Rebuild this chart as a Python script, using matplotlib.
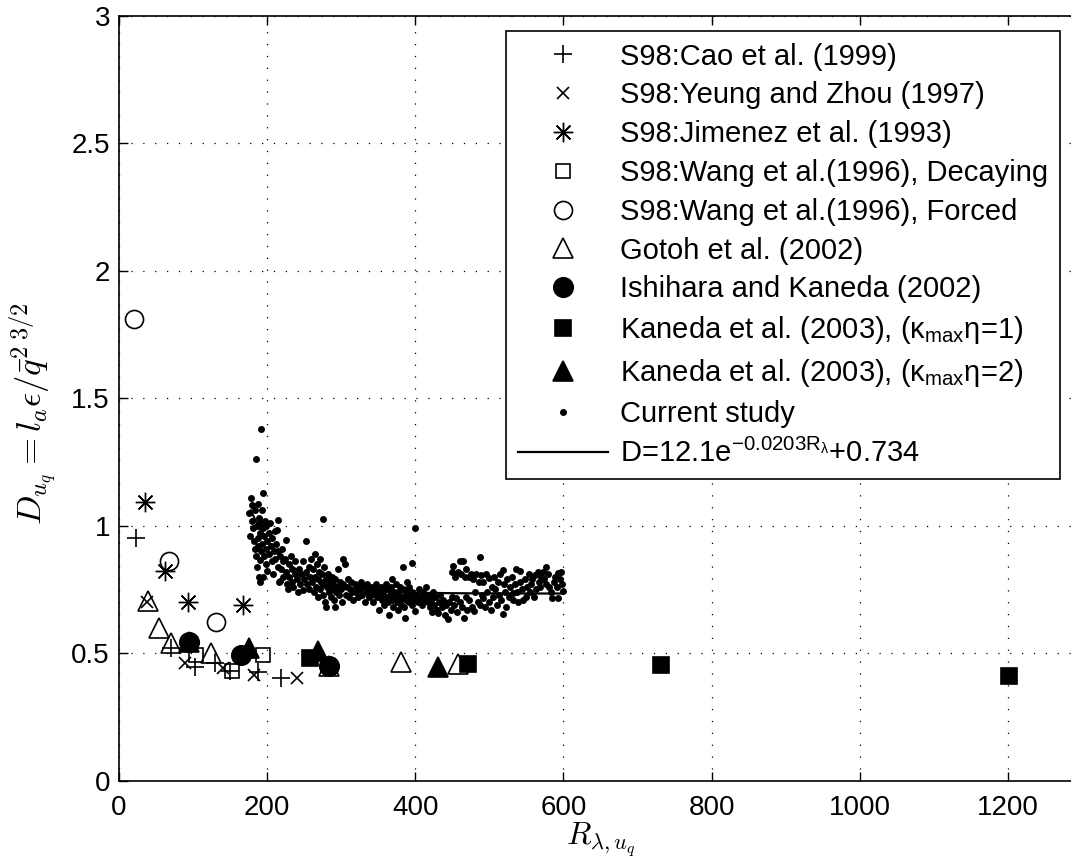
import math
import matplotlib
matplotlib.use("Agg")
import matplotlib.pyplot as plt

plt.rcParams['font.family'] = ['Liberation Sans', 'DejaVu Sans']
plt.rcParams['mathtext.fontset'] = 'custom'
plt.rcParams['mathtext.rm'] = 'Liberation Sans'
plt.rcParams['mathtext.it'] = 'Liberation Sans:italic'
plt.rcParams['mathtext.bf'] = 'Liberation Sans:bold'

# ---------------- data ----------------
cao_r = [23, 70, 102, 130, 150, 188, 219]
cao_d = [0.951, 0.519, 0.447, 0.463, 0.430, 0.427, 0.401]

yeung_r = [38, 89.5, 141, 182, 240]
yeung_d = [0.70, 0.463, 0.441, 0.415, 0.401]

jimenez_r = [34.6, 61.6, 93, 167]
jimenez_d = [1.092, 0.824, 0.702, 0.689]

wang_dec_r = [104, 152, 195]
wang_dec_d = [0.493, 0.431, 0.493]

wang_for_r = [19.8, 68, 131]
wang_for_d = [1.81, 0.863, 0.624]

gotoh_r = [38.7, 53.5, 70, 124.6, 284, 381, 458]
gotoh_d = [0.705, 0.598, 0.539, 0.500, 0.450, 0.467, 0.456]

ishihara_r = [94, 165, 284]
ishihara_d = [0.545, 0.493, 0.451]

kaneda1_r = [258, 471, 732, 1202]
kaneda1_d = [0.480, 0.456, 0.452, 0.410]

kaneda2_r = [94, 175, 268, 430]
kaneda2_d = [0.545, 0.520, 0.510, 0.447]

current_r = [
    176, 177, 178, 179, 180, 181, 182, 183, 184, 185, 185, 186, 186, 187, 188, 188, 189, 189,
    190, 190, 191, 191, 192, 192, 193, 193, 194, 194, 195, 196, 196, 197, 198, 198, 199, 200, 200,
    202, 203, 204, 205, 206, 207, 208, 209, 210, 211, 212, 213, 214, 215, 215, 216, 217, 218, 219,
    220, 221, 222, 224, 225, 226, 227, 228, 229, 230, 232, 233, 234, 235, 237, 238, 240, 241, 243,
    244, 246, 248, 249, 250, 252, 253, 254, 256, 257, 258, 259,
    261, 262, 263, 264, 265, 266, 267, 268, 269, 270, 271, 272, 273, 274, 275, 275, 276, 277, 278,
    279, 280, 281, 282, 283, 284, 286, 287, 288, 289, 290, 291, 292, 293, 295, 296, 297, 298, 300,
    301, 302, 303, 305, 306, 308, 309, 310, 312, 313, 315, 316, 318, 320, 322, 323, 325, 327, 328,
    330, 332, 333, 335, 337, 338, 340, 342, 343, 345, 347, 348, 350,
    351, 352, 354, 355, 357, 358, 360, 361, 362, 363, 365, 366, 367, 368, 369, 370, 371, 372, 374,
    375, 376, 377, 378, 379, 380, 381, 383, 383, 384, 385, 386, 387, 388, 389, 390, 391, 392, 393,
    395, 395, 396, 398, 400, 400, 401, 403, 405, 407, 409, 410, 412, 414, 415, 417, 418, 420,
    421, 423, 424, 425, 427, 429, 431, 432, 434, 436, 438, 440, 442, 444, 446, 448, 449, 450, 451,
    452, 454, 455, 456, 458, 460, 461, 462, 463, 465, 466, 467, 468, 469, 470, 472, 473, 475, 476,
    478, 479, 480, 482, 484, 486, 487, 488, 489, 490,
    491, 492, 494, 496, 497, 499, 500, 502, 503, 505, 506, 508, 510, 511, 513, 515, 516, 518, 518,
    520, 521, 523, 524, 526, 528, 530, 532, 532, 534, 536, 537, 539, 541, 542, 544, 546, 548, 550,
    551, 553, 555, 556, 558, 560, 562, 563, 565, 567, 569, 570, 572, 574, 576, 577, 579, 581, 583,
    585, 587, 589, 591, 592, 593, 595, 597, 598, 600,
]
current_d = [
    1.05, 0.96, 1.11, 1.08, 1.02, 0.99, 0.94, 1.06, 0.91, 1.26, 0.88, 1.00, 0.84, 0.95, 1.085, 0.92, 0.80, 1.03,
    0.865, 0.78, 0.97, 1.01, 1.378, 0.90, 1.06, 0.93, 1.127, 0.80, 0.99, 0.88, 0.96, 1.02, 0.91, 0.85, 1.00, 0.824, 0.94,
    0.97, 0.89, 1.01, 0.92, 0.86, 0.95, 0.81, 0.90, 0.98, 0.87, 0.93, 0.985, 0.84, 1.022, 0.90, 0.78, 0.784, 0.88, 0.83,
    0.91, 0.86, 0.80, 0.87, 0.943, 0.82, 0.77, 0.75, 0.85, 0.80, 0.88, 0.78, 0.83, 0.76, 0.81, 0.86, 0.79, 0.74, 0.83,
    0.77, 0.81, 0.748, 0.86, 0.79, 0.82, 0.939, 0.77, 0.84, 0.75, 0.80, 0.87,
    0.78, 0.83, 0.74, 0.89, 0.80, 0.76, 0.85, 0.72, 0.79, 0.82, 0.75, 0.87, 0.78, 0.81, 1.027, 0.73, 0.77, 0.84, 0.70,
    0.79, 0.683, 0.76, 0.81, 0.74, 0.78, 0.72, 0.80, 0.75, 0.77, 0.71, 0.68, 0.79, 0.74, 0.76, 0.83, 0.73, 0.78, 0.75,
    0.70, 0.868, 0.77, 0.85, 0.73, 0.76, 0.79, 0.72, 0.75, 0.78, 0.74, 0.71, 0.77, 0.74, 0.76, 0.72, 0.75, 0.78, 0.73,
    0.76, 0.70, 0.74, 0.77, 0.72, 0.75, 0.73, 0.76, 0.70, 0.74, 0.77, 0.72, 0.75,
    0.669, 0.73, 0.76, 0.71, 0.74, 0.69, 0.77, 0.72, 0.75, 0.70, 0.65, 0.73, 0.76, 0.71, 0.79, 0.68, 0.74, 0.72, 0.77,
    0.70, 0.74, 0.67, 0.73, 0.76, 0.71, 0.69, 0.84, 0.75, 0.72, 0.68, 0.637, 0.74, 0.71, 0.78, 0.73, 0.70, 0.76, 0.72,
    0.855, 0.69, 0.74, 0.71, 0.99, 0.665, 0.73, 0.70, 0.75, 0.72, 0.69, 0.74, 0.71, 0.76, 0.722, 0.70, 0.73, 0.68,
    0.71, 0.66, 0.741, 0.69, 0.72, 0.67, 0.659, 0.70, 0.73, 0.68, 0.71, 0.65, 0.69, 0.633, 0.70, 0.67, 0.82, 0.72, 0.842,
    0.69, 0.80, 0.715, 0.66, 0.82, 0.86, 0.70, 0.81, 0.68, 0.86, 0.639, 0.80, 0.72, 0.83, 0.67, 0.80, 0.71, 0.81, 0.68,
    0.79, 0.667, 0.74, 0.81, 0.70, 0.78, 0.876, 0.69, 0.806, 0.73,
    0.715, 0.78, 0.68, 0.81, 0.74, 0.70, 0.794, 0.67, 0.76, 0.72, 0.80, 0.75, 0.69, 0.78, 0.73, 0.81, 0.71, 0.826, 0.654,
    0.77, 0.74, 0.68, 0.79, 0.72, 0.76, 0.80, 0.708, 0.735, 0.77, 0.83, 0.74, 0.70, 0.78, 0.823, 0.75, 0.71, 0.79, 0.722,
    0.76, 0.81, 0.74, 0.77, 0.79, 0.72, 0.806, 0.75, 0.82, 0.78, 0.76, 0.80, 0.82, 0.79, 0.77, 0.839, 0.81, 0.76, 0.74,
    0.715, 0.78, 0.80, 0.76, 0.815, 0.715, 0.79, 0.82, 0.77, 0.745,
]

# exponential fit D = a*exp(-b*R) + c over the current-study range
fit_a, fit_b, fit_c = 12.1, 0.0203, 0.734
fit_r_start, fit_r_end = 178, 600

x_ticks = [0, 200, 400, 600, 800, 1000, 1200]
x_tick_labels = ['0', '200', '400', '600', '800', '1000', '1200']
y_ticks = [0, 0.5, 1, 1.5, 2, 2.5, 3]
y_tick_labels = ['0', '0.5', '1', '1.5', '2', '2.5', '3']

# ---------------- figure ----------------
W, H = 1071, 863
fig = plt.figure(figsize=(W / 100, H / 100), dpi=100)
ax = fig.add_axes([119 / W, (H - 780.7) / H, (1082 - 119) / W, 765 / H])

k = 'k'
mew = 1.2
ax.plot(cao_r, cao_d, ls='none', marker='+', ms=13, mew=mew, color=k,
        label='S98:Cao et al. (1999)')
ax.plot(yeung_r, yeung_d, ls='none', marker='x', ms=9, mew=mew, color=k,
        label='S98:Yeung and Zhou (1997)')
ax.plot(jimenez_r, jimenez_d, ls='none', marker=(8, 2, 0), ms=14, mew=1.0, color=k,
        label='S98:Jimenez et al. (1993)')
ax.plot(wang_dec_r, wang_dec_d, ls='none', marker='s', ms=10, mew=mew, color=k,
        mfc='none', label='S98:Wang et al.(1996), Decaying')
ax.plot(wang_for_r, wang_for_d, ls='none', marker='o', ms=13, mew=mew, color=k,
        mfc='none', label='S98:Wang et al.(1996), Forced')
ax.plot(gotoh_r, gotoh_d, ls='none', marker='^', ms=14, mew=mew, color=k,
        mfc='none', label='Gotoh et al. (2002)')
ax.plot(ishihara_r, ishihara_d, ls='none', marker='o', ms=14, mew=mew, color=k,
        label='Ishihara and Kaneda (2002)')
ax.plot(kaneda1_r, kaneda1_d, ls='none', marker='s', ms=12, mew=mew, color=k,
        label=r'Kaneda et al. (2003), ($\mathregular{\kappa_{max}\eta}$=1)')
ax.plot(kaneda2_r, kaneda2_d, ls='none', marker='^', ms=15, mew=mew, color=k,
        label=r'Kaneda et al. (2003), ($\mathregular{\kappa_{max}\eta}$=2)')
ax.plot(current_r, current_d, ls='none', marker='o', ms=5, mew=0, color=k,
        label='Current study')

n_fit = 200
fit_r = [fit_r_start + (fit_r_end - fit_r_start) * i / (n_fit - 1) for i in range(n_fit)]
fit_d = [fit_a * math.exp(-fit_b * r) + fit_c for r in fit_r]
ax.plot(fit_r, fit_d, color=k, lw=1.6,
        label=r'D=12.1e$^{\mathregular{-0.0203R_{\lambda}}}$+0.734')

ax.set_xlim(0, 1300)
ax.set_ylim(0, 3)
ax.set_xticks(x_ticks)
ax.set_xticklabels(x_tick_labels)
ax.set_yticks(y_ticks)
ax.set_yticklabels(y_tick_labels)

ax.set_axisbelow(True)
ax.grid(True, linestyle=(0, (1, 8.5)), color='k', linewidth=0.9)
for s in ax.spines.values():
    s.set_linewidth(1.2)
ax.tick_params(direction='in', length=6.5, width=1.0, top=True, right=True,
               labelsize=20)
ax.tick_params(axis='x', pad=10)
ax.tick_params(axis='y', pad=6.5)

ax.set_xlabel(r'$R_{\lambda,u_q}$', fontsize=23, math_fontfamily='cm')
ax.set_ylabel(r'$D_{u_q} = l_a\epsilon/\bar{q}^{2\;3/2}$', fontsize=25,
              math_fontfamily='cm')
ax.xaxis.set_label_coords(0.5, -0.052)
ax.yaxis.set_label_coords(-0.062, 0.48)

leg = ax.legend(loc='upper left', bbox_to_anchor=(506 / W, 1 - 31 / H),
                bbox_transform=fig.transFigure, fontsize=21, frameon=True,
                fancybox=False, edgecolor='k', framealpha=1, borderaxespad=0,
                borderpad=0.4, labelspacing=0.37, handlelength=3.1,
                handletextpad=0.4, numpoints=1)
leg.get_frame().set_linewidth(1.2)

fig.savefig('out.png', dpi=100)
